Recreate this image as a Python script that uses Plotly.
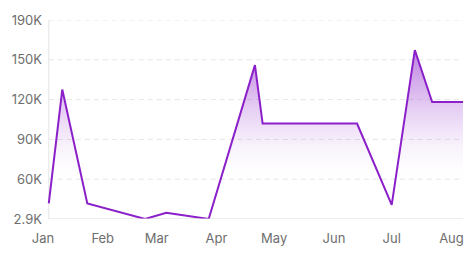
import plotly.graph_objects as go

# ---- data ----
dates = ["2023-01-04", "2023-01-11", "2023-01-24", "2023-02-23", "2023-03-06",
         "2023-03-28", "2023-04-21", "2023-04-25", "2023-06-13", "2023-07-01",
         "2023-07-13", "2023-07-22", "2023-08-07"]
values = [17600, 124600, 17600, 2900, 8700,
          2900, 147600, 92600, 92600, 16100,
          161700, 112900, 112900]

month_dates = ["2023-01-01", "2023-02-01", "2023-03-01", "2023-04-01",
               "2023-05-01", "2023-06-01", "2023-07-01", "2023-08-01"]
month_labels = ["Jan", "Feb", "Mar", "Apr", "May", "Jun", "Jul", "Aug"]

y_min, y_max = 2900, 190000
y_tick_text = ["2.9K", "60K", "90K", "120K", "150K", "190K"]
y_tick_vals = [y_min + i * (y_max - y_min) / (len(y_tick_text) - 1)
               for i in range(len(y_tick_text))]

LINE = "#8b1fc9"
FONT = dict(family="Inter, Roboto, sans-serif", size=13, color="#6e6e6e")


def purple(a):
    return f"rgba(139,31,201,{a})"


fig = go.Figure()
fig.add_trace(go.Scatter(
    x=dates, y=values, mode="lines",
    line=dict(color=LINE, width=2),
    fill="tozeroy",
    fillgradient=dict(
        type="vertical",
        start=40000, stop=max(values),
        colorscale=[[0, purple(0)], [0.13, purple(0.01)], [0.29, purple(0.06)],
                    [0.40, purple(0.12)], [0.57, purple(0.22)], [1, purple(0.55)]],
    ),
    hoverinfo="skip",
))

# dashed horizontal gridlines (from first to last data point)
for v in y_tick_vals[1:]:
    fig.add_shape(type="line", xref="x", yref="y", x0=dates[0], x1=dates[-1],
                  y0=v, y1=v, line=dict(color="#e6e6e6", width=1, dash="5px,4px"),
                  layer="below")
# axis lines
fig.add_shape(type="line", xref="x", yref="y", x0=dates[0], x1=dates[-1],
              y0=y_min, y1=y_min, line=dict(color="#dadada", width=1), layer="above")
fig.add_shape(type="line", xref="x", yref="y", x0=dates[0], x1=dates[0],
              y0=y_min, y1=y_max, line=dict(color="#e6e6e6", width=1), layer="below")

fig.update_layout(
    width=476, height=258,
    margin=dict(l=40, r=12, t=17, b=37),
    paper_bgcolor="white", plot_bgcolor="white",
    showlegend=False,
    font=FONT,
    xaxis=dict(
        type="date", range=[month_dates[0], dates[-1]],
        tickmode="array", tickvals=month_dates, ticktext=month_labels,
        showgrid=False, zeroline=False, showline=False,
        ticks="", ticklabelstandoff=10, tickfont=FONT,
    ),
    yaxis=dict(
        range=[y_min, y_max],
        tickmode="array", tickvals=y_tick_vals, ticktext=y_tick_text,
        showgrid=False, zeroline=False, showline=False,
        ticks="", ticklabelstandoff=0, tickfont=FONT,
    ),
)

fig.write_html("out.html")
